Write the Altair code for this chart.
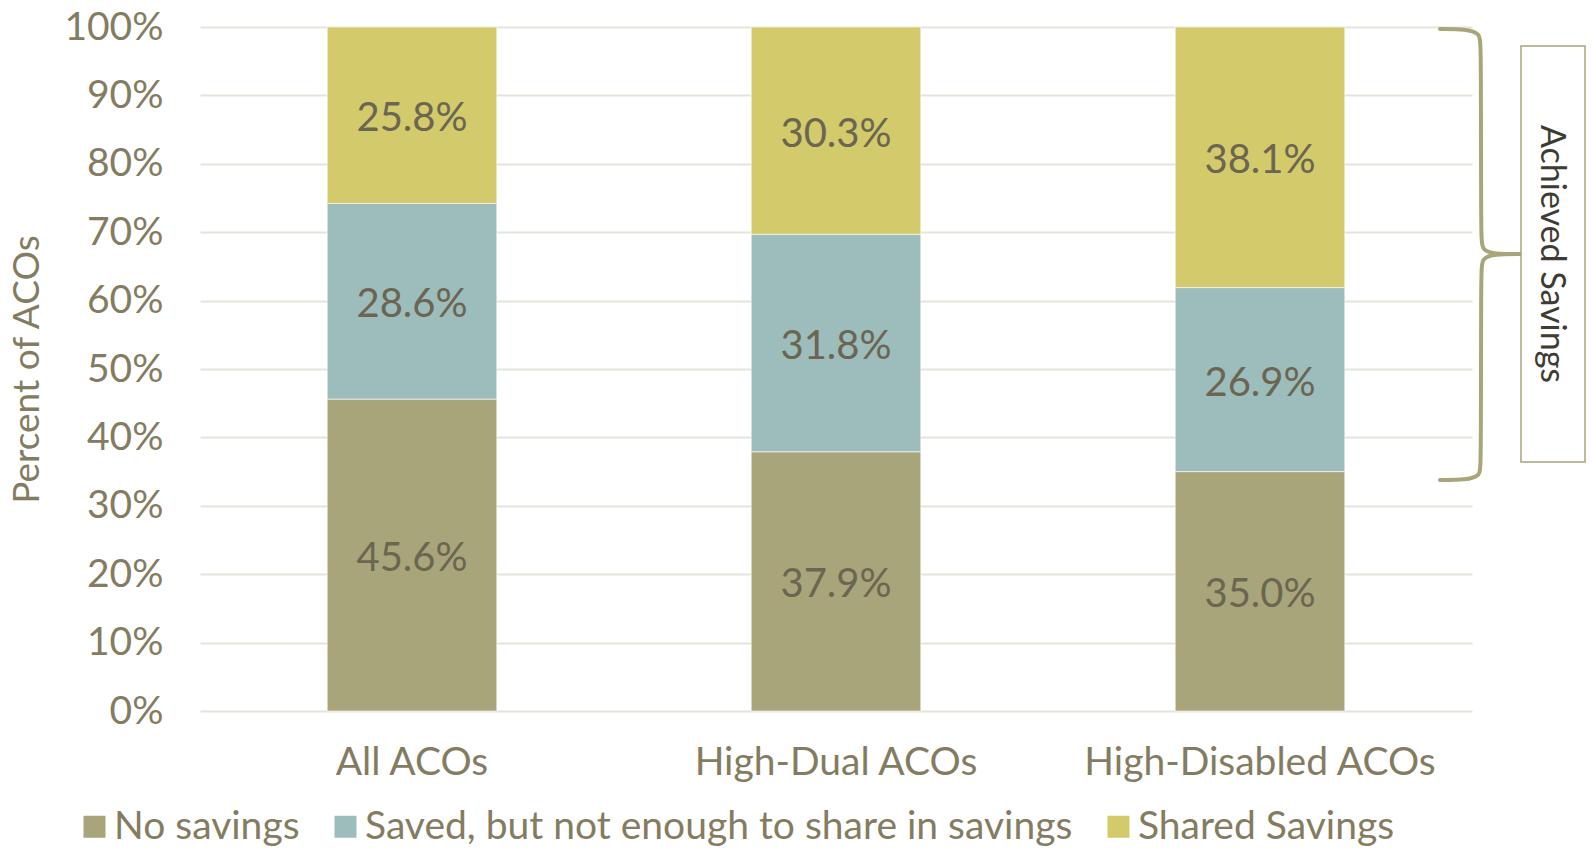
import altair as alt
import pandas as pd

# ACO groups and savings outcomes (percent of ACOs)
groups = ["All ACOs", "High-Dual ACOs", "High-Disabled ACOs"]
outcomes = ["No savings", "Saved, but not enough to share in savings", "Shared Savings"]
no_savings = [45.6, 37.9, 35.0]
saved_not_shared = [28.6, 31.8, 26.9]
shared_savings = [25.8, 30.3, 38.1]

palette = ["#a9a57b", "#9cbdbc", "#d2ca6b"]
axis_text = "#847c61"
label_text = "#6b6551"
accent = "#a9a57b"
FONT = "Lato"

# plot area size in pixels
W, H = 1272, 684

rows = []
for idx, (name, vals) in enumerate(zip(outcomes, [no_savings, saved_not_shared, shared_savings])):
    for g, v in zip(groups, vals):
        rows.append({"group": g, "outcome": name, "idx": idx, "pct": v / 100, "label": f"{v:.1f}%"})
df = pd.DataFrame(rows)

# curly brace marking the "achieved savings" span: x in pixels from the plot's left edge, y in share units
brace_x = [1240, 1266, 1280, 1281, 1281, 1282, 1294, 1322,
           1240, 1266, 1280, 1281, 1281, 1282, 1294, 1322]
brace_y = [0.997, 0.997, 0.991, 0.974, 0.6915, 0.674, 0.668, 0.668,
           0.3377, 0.3377, 0.3436, 0.358, 0.645, 0.662, 0.668, 0.668]
brace_half = ["top"] * 8 + ["bottom"] * 8
brace = pd.DataFrame({"bx": brace_x, "by": brace_y, "half": brace_half,
                      "seq": list(range(8)) + list(range(8))})

y_title = "Percent of ACOs"

x_enc = alt.X(
    "group:N",
    sort=groups,
    title=None,
    scale=alt.Scale(paddingInner=0.6, paddingOuter=0.3),
    axis=alt.Axis(
        labelAngle=0, labelFont=FONT, labelFontSize=39, labelColor=axis_text,
        labelPadding=32, labelLimit=600, ticks=False, domain=False,
    ),
)

y_axis = alt.Axis(
    values=[i / 10 for i in range(11)], format=".0%",
    labelFont=FONT, labelFontSize=39, labelColor=axis_text, labelPadding=37,
    ticks=False, domain=False, grid=True, gridColor="#e6e3db", gridWidth=2,
    titleFont=FONT, titleFontSize=37, titleFontWeight="normal", titleColor=axis_text,
    titleAngle=-90, titleX=-173, titleY=H / 2, titleAlign="center", titleBaseline="middle",
)
y_scale = alt.Scale(domain=[0, 1], nice=False)

bars = alt.Chart(df).mark_bar(stroke="white", strokeWidth=1, strokeOpacity=0.6).encode(
    x=x_enc,
    y=alt.Y("pct:Q", stack="zero", scale=y_scale, axis=y_axis, title=y_title),
    color=alt.Color(
        "outcome:N",
        scale=alt.Scale(domain=outcomes, range=palette),
        legend=alt.Legend(
            title=None, orient="none", legendX=-125, legendY=780, direction="horizontal",
            symbolType="square", symbolSize=484, symbolStrokeWidth=0, symbolOpacity=1,
            labelFont=FONT, labelFontSize=39, labelColor=axis_text, labelOffset=0,
            labelLimit=1000, columnPadding=26,
        ),
    ),
    order=alt.Order("idx:Q", sort="ascending"),
)

labels = alt.Chart(df).transform_stack(
    stack="pct", groupby=["group"], as_=["y0", "y1"],
    sort=[alt.SortField("idx", order="ascending")],
).transform_calculate(
    mid="(datum.y0 + datum.y1) / 2"
).mark_text(font=FONT, fontSize=40, color=label_text, dy=4).encode(
    x=x_enc,
    y=alt.Y("mid:Q", scale=y_scale, title=y_title),
    text="label:N",
)

brace_line = alt.Chart(brace).mark_line(
    color=accent, strokeWidth=4, interpolate="basis", strokeCap="round"
).encode(
    x=alt.X("bx:Q", scale=alt.Scale(domain=[0, W], nice=False, zero=False), axis=None),
    y=alt.Y("by:Q", scale=y_scale, title=y_title),
    detail="half:N",
    order=alt.Order("seq:Q"),
)

box_df = pd.DataFrame({"caption": ["Achieved Savings"]})
box = alt.Chart(box_df).mark_rect(fill="white", stroke=accent, strokeWidth=1.5).encode(
    x=alt.value(1321), x2=alt.value(1385), y=alt.value(19), y2=alt.value(435)
)
box_text = alt.Chart(box_df).mark_text(
    angle=90, font=FONT, fontSize=34, color="#3d3c33", align="center", baseline="middle"
).encode(
    x=alt.value(1351), y=alt.value(227), text="caption:N"
)

# bars and their labels share the band scale; the brace uses its own pixel-like x scale
main = alt.layer(bars, labels)

chart = alt.layer(main, brace_line, box, box_text).resolve_scale(
    x="independent"
).properties(
    width=W, height=H,
    autosize=alt.AutoSizeParams(type="none"),
    padding={"left": 200, "top": 27, "right": 120, "bottom": 138},
    background="white",
).configure_view(stroke=None)

chart.save("out.html", embed_options={"renderer": "svg", "actions": False})
